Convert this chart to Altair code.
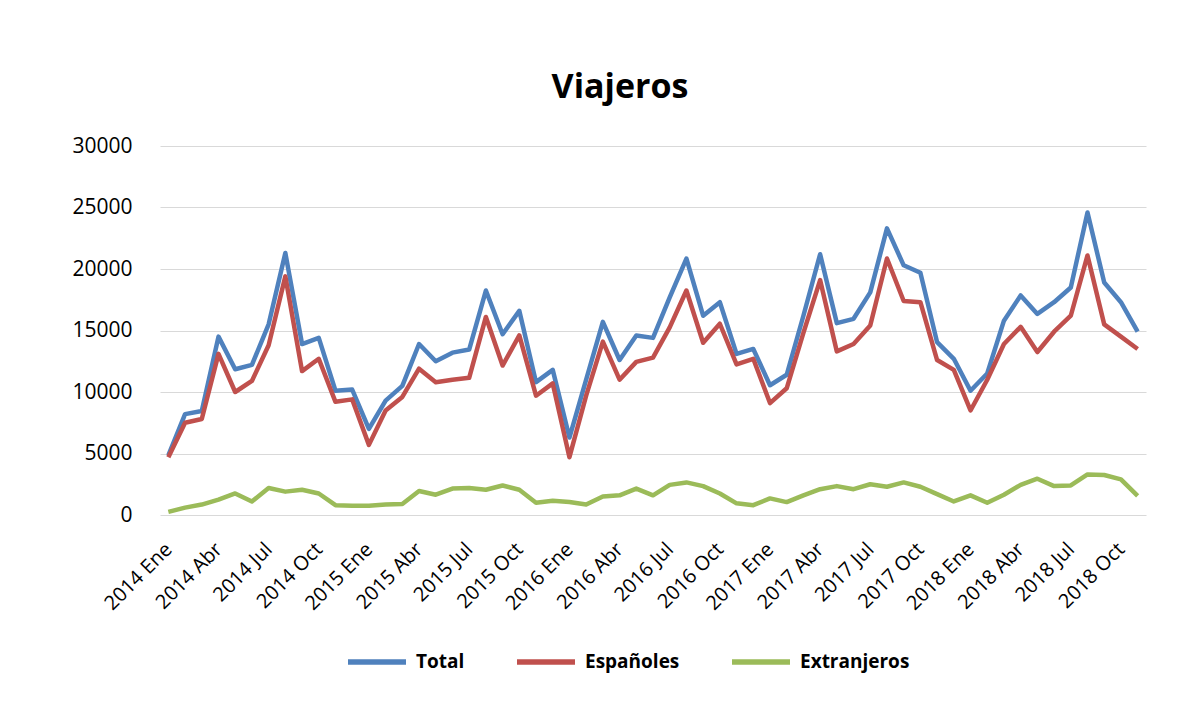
import altair as alt
import pandas as pd

years = ["2014", "2015", "2016", "2017", "2018"]
months = ["Ene", "Feb", "Mar", "Abr", "May", "Jun", "Jul", "Ago", "Sep", "Oct", "Nov", "Dic"]
categories = [f"{y} {m}" for y in years for m in months][:59]
tick_labels = categories[::3]

total = [4850, 8200, 8450, 14500, 11850, 12200, 15500, 21300, 13900, 14400, 10100, 10200,
         7000, 9300, 10500, 13900, 12500, 13200, 13450, 18250, 14700, 16600, 10800, 11800,
         6300, 11000, 15700, 12600, 14600, 14400, 17700, 20850, 16200, 17300, 13100, 13500,
         10550, 11400, 16200, 21200, 15600, 15950, 18100, 23300, 20300, 19700, 14050, 12700,
         10100, 11500, 15800, 17850, 16350, 17300, 18500, 24600, 18900, 17300, 14900]
espanoles = [4700, 7500, 7800, 13100, 10000, 10900, 13800, 19400, 11700, 12700, 9200, 9400,
             5700, 8500, 9600, 11900, 10800, 11000, 11150, 16100, 12150, 14600, 9700, 10700,
             4700, 9700, 14100, 11000, 12450, 12800, 15250, 18250, 14000, 15550, 12250, 12700,
             9100, 10300, 14800, 19100, 13300, 13900, 15400, 20850, 17400, 17300, 12600, 11800,
             8500, 11000, 13900, 15300, 13250, 14900, 16200, 21100, 15500, 14500, 13500]
extranjeros = [250, 600, 850, 1250, 1750, 1100, 2200, 1900, 2050, 1750, 800, 750,
               750, 850, 900, 1950, 1650, 2150, 2200, 2050, 2400, 2050, 1000, 1150,
               1050, 850, 1500, 1600, 2150, 1600, 2450, 2650, 2350, 1750, 950, 800,
               1350, 1050, 1600, 2100, 2350, 2100, 2500, 2300, 2650, 2300, 1700, 1100,
               1600, 1000, 1650, 2450, 2950, 2350, 2400, 3300, 3250, 2900, 1550]

series_names = ["Total", "Españoles", "Extranjeros"]
series_colors = ["#4F81BD", "#C0504D", "#9BBB59"]

rows = []
for name, vals in zip(series_names, [total, espanoles, extranjeros]):
    for i, (c, v) in enumerate(zip(categories, vals)):
        rows.append({"mes": c, "valor": v, "serie": name, "i": i})
df = pd.DataFrame(rows)

FONT = "Open Sans"

chart = alt.Chart(df).mark_line(strokeWidth=4.5, strokeJoin="round").encode(
    x=alt.X("mes:N", sort=categories,
            scale=alt.Scale(type="point", padding=0.5),
            axis=alt.Axis(values=tick_labels, labelAngle=-45, labelAlign="right",
                          labelBaseline="middle", labelPadding=31, ticks=False,
                          domain=False, grid=False, title=None,
                          labelFontSize=20, labelFont=FONT, labelColor="#000000",
                          labelOverlap=False)),
    y=alt.Y("valor:Q", scale=alt.Scale(domain=[0, 30000], nice=False),
            axis=alt.Axis(values=[0, 5000, 10000, 15000, 20000, 25000, 30000],
                          format="d",
                          ticks=False, domain=False, grid=True, gridColor="#D9D9D9",
                          gridWidth=1, title=None, labelPadding=28,
                          labelFontSize=21, labelFont=FONT, labelColor="#000000",
                          minExtent=90, maxExtent=90)),
    color=alt.Color("serie:N",
                    scale=alt.Scale(domain=series_names, range=series_colors),
                    legend=alt.Legend(orient="none", legendX=185, legendY=484,
                                      direction="horizontal", title=None,
                                      symbolType="stroke", symbolSize=3364,
                                      symbolStrokeWidth=5.5, labelFontSize=19,
                                      labelFont=FONT, labelFontWeight="bold",
                                      labelColor="#000000", columnPadding=41,
                                      labelOffset=7, padding=0)),
    order=alt.Order("i:Q"),
    detail="serie:N",
).properties(
    width=986,
    height=369,
    background="#FFFFFF",
    autosize=alt.AutoSizeParams(type="none"),
    padding={"left": 152, "top": 138, "right": 25, "bottom": 190},
    title=alt.TitleParams("Viajeros", fontSize=34, font=FONT, fontWeight="bold",
                          color="#000000", anchor="middle", dx=-33, offset=3,
                          baseline="alphabetic"),
).configure_view(strokeWidth=0, stroke="transparent")

chart.save("out.html", embed_options={"renderer": "svg", "actions": False})
